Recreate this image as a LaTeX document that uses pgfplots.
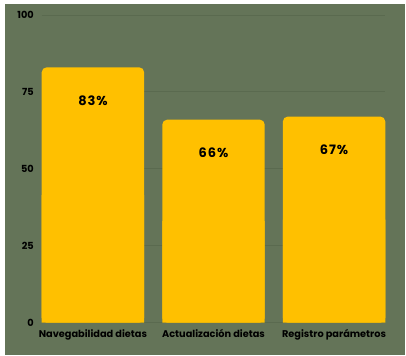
\documentclass[border=0pt]{standalone}
\usepackage{pgfplots}
\pgfplotsset{compat=1.18}
\usepackage{pgfplotstable}
\usepackage{fontspec}
\setmainfont{Poppins}
\definecolor{bg}{HTML}{647458}
\definecolor{gridc}{HTML}{5A6A4F}
\definecolor{baryel}{HTML}{FFC000}
\pgfplotstableread{
x y
0 83
1 66
2 67
}\datatable
\begin{document}
\begin{tikzpicture}[x=1bp,y=1bp]
\fill[white] (0,0) rectangle (406,-356);
\fill[bg] (5,-4) rectangle (405,-355);
\begin{axis}[
  at={(41.7bp,-322.7bp)}, anchor=south west,
  scale only axis, width=343.6bp, height=307.7bp,
  xmin=-0.425, xmax=2.425, ymin=0, ymax=100,
  ybar, bar width=0.85, bar shift=0pt,
  axis line style={draw=none}, major tick length=0pt,
  ytick={0,25,50,75,100},
  xtick={0,1,2},
  xticklabels={Navegabilidad dietas, Actualización dietas, Registro parámetros},
  ymajorgrids, grid style={gridc, line width=1bp},
  /pgf/number format/assume math mode=true,
  yticklabel style={font=\bfseries\fontsize{9.8}{11}\selectfont, text=black, anchor=east, inner sep=0pt, xshift=-7.7bp},
  xticklabel style={font=\bfseries\fontsize{9.8}{11}\selectfont, text=black, anchor=base, inner sep=0pt, yshift=-14.5bp},
]
\addplot[fill=baryel, draw=none, bar shift=0pt] table[x=x, y expr=\thisrow{y}/2] {\datatable};
\addplot[fill=baryel, draw=none, bar shift=0pt, rounded corners=5bp,
  nodes near coords={\pgfmathprintnumber{\pgfplotspointmeta}\%},
  every node near coord/.append style={anchor=center, yshift=-33.4bp, font=\bfseries\fontsize{13}{15}\selectfont\addfontfeatures{LetterSpace=7}, text=black, rounded corners=0pt}
] table[x=x, y=y] {\datatable};
\end{axis}
\end{tikzpicture}
\end{document}
